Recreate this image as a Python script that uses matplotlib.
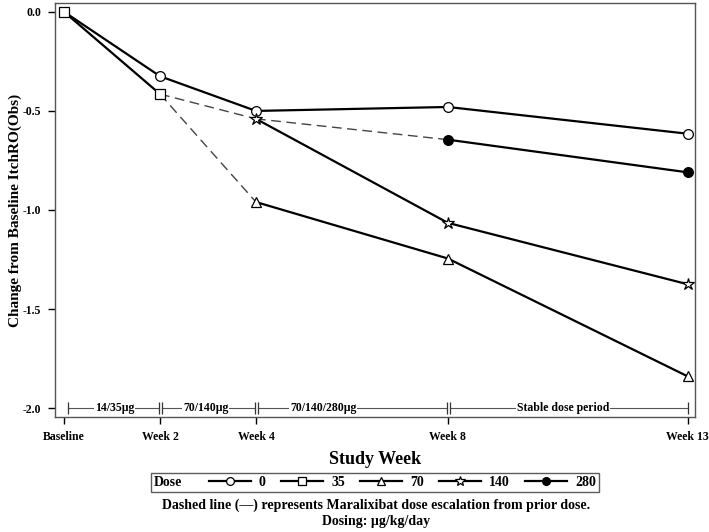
import matplotlib.pyplot as plt
from matplotlib.offsetbox import HPacker

plt.rcParams['font.family'] = 'Liberation Serif'
plt.rcParams['font.weight'] = 'bold'

# week positions and labels
weeks = [0, 2, 4, 8, 13]
week_labels = ['Baseline', 'Week 2', 'Week 4', 'Week 8', 'Week 13']

# mean change from baseline per dose group
wk_0 = [0, 2, 4, 8, 13]
dose_0 = [0.0, -0.325, -0.50, -0.48, -0.615]
wk_35 = [0, 2]
dose_35 = [0.0, -0.415]
wk_70 = [4, 8, 13]
dose_70 = [-0.96, -1.245, -1.84]
wk_140 = [4, 8, 13]
dose_140 = [-0.54, -1.065, -1.375]
wk_280 = [8, 13]
dose_280 = [-0.645, -0.81]

# dose escalation links (dashed)
esc_x = [[2, 4], [2, 4], [4, 8]]
esc_y = [[-0.415, -0.96], [-0.415, -0.54], [-0.54, -0.645]]

# dosing periods
period_edges = [0, 2, 4, 8, 13]
period_labels = ['14/35\u00b5g', '70/140\u00b5g', '70/140/280\u00b5g', 'Stable dose period']
period_label_x = [1.05, 2.95, 5.4, 10.4]

fig = plt.figure(figsize=(7.09, 5.32), dpi=100)
ax = fig.add_axes([0.0776, 0.2162, 0.9025, 0.7782])

for xs, ys in zip(esc_x, esc_y):
    ax.plot(xs, ys, color='#444444', lw=1.0, ls=(0, (7, 4)), zorder=2)

mk = dict(color='black', lw=1.6, ms=7, mec='black', mew=0.9, zorder=3)
h0, = ax.plot(wk_0, dose_0, marker='o', mfc='white', **mk)
h35, = ax.plot(wk_35, dose_35, marker='s', mfc='white', **mk)
h70, = ax.plot(wk_70, dose_70, marker='^', mfc='white', **mk)
h140, = ax.plot(wk_140, dose_140, marker='*', mfc='white', **dict(mk, ms=9))
h280, = ax.plot(wk_280, dose_280, marker='o', mfc='black', **mk)

# period bars at the bottom
yb = -2.0
for i in range(len(period_labels)):
    a = period_edges[i] + (0.08 if i == 0 else 0.05)
    b = period_edges[i + 1] - (0.02 if i < len(period_labels) - 1 else 0)
    ax.plot([a, b], [yb, yb], color='#555555', lw=0.8, marker='|', ms=8, mew=0.9, mec='#333333', zorder=2)
    ax.text(period_label_x[i], yb, period_labels[i], ha='center', va='center', fontsize=8.5,
            fontweight='bold', bbox=dict(facecolor='white', edgecolor='none', pad=0.5), zorder=4)

ax.set_xlim(-0.19, 13.15)
ax.set_ylim(-2.045, 0.045)
ax.set_xticks(weeks)
ax.set_xticklabels(week_labels, fontsize=8.5, fontweight='bold')
ax.set_yticks([0, -0.5, -1.0, -1.5, -2.0])
ax.set_yticklabels(['0.0', '-0.5', '-1.0', '-1.5', '-2.0'], fontsize=8.5, fontweight='bold')
ax.tick_params(length=5, width=1, pad=5)
for s in ax.spines.values():
    s.set_color('#555555')
    s.set_linewidth(1)

ax.set_xlabel('Study Week', fontsize=13, fontweight='bold', labelpad=6)
ax.set_ylabel('Change from Baseline ItchRO(Obs)', fontsize=11, fontweight='bold')
ax.yaxis.set_label_coords(-0.052, 0.5)

leg = fig.legend([h0, h35, h70, h140, h280], ['0', '35', '70', '140', '280'],
                 title='Dose', ncol=5, loc='center', bbox_to_anchor=(0.529, 0.093),
                 frameon=True, fancybox=False, edgecolor='#333333', fontsize=10,
                 title_fontsize=10, handlelength=3.0, handletextpad=0.6, columnspacing=1.1,
                 borderpad=0.2, markerscale=0.8)
leg.get_frame().set_linewidth(1.0)
leg.get_title().set_fontweight('bold')
for t in leg.get_texts():
    t.set_fontweight('bold')
# put the "Dose" title to the left of the entries
hp = HPacker(pad=leg._legend_box.pad, sep=19, align='center',
             children=[leg._legend_title_box, leg._legend_handle_box])
hp.set_figure(fig)
leg._legend_box = hp
hp.set_offset(leg._findoffset)

fig.text(0.53, 0.050, 'Dashed line (\u2014) represents Maralixibat dose escalation from prior dose.',
         ha='center', va='center', fontsize=10, fontweight='bold')
fig.text(0.53, 0.020, 'Dosing: \u00b5g/kg/day', ha='center', va='center', fontsize=10, fontweight='bold')

fig.savefig('out.png', dpi=100)
